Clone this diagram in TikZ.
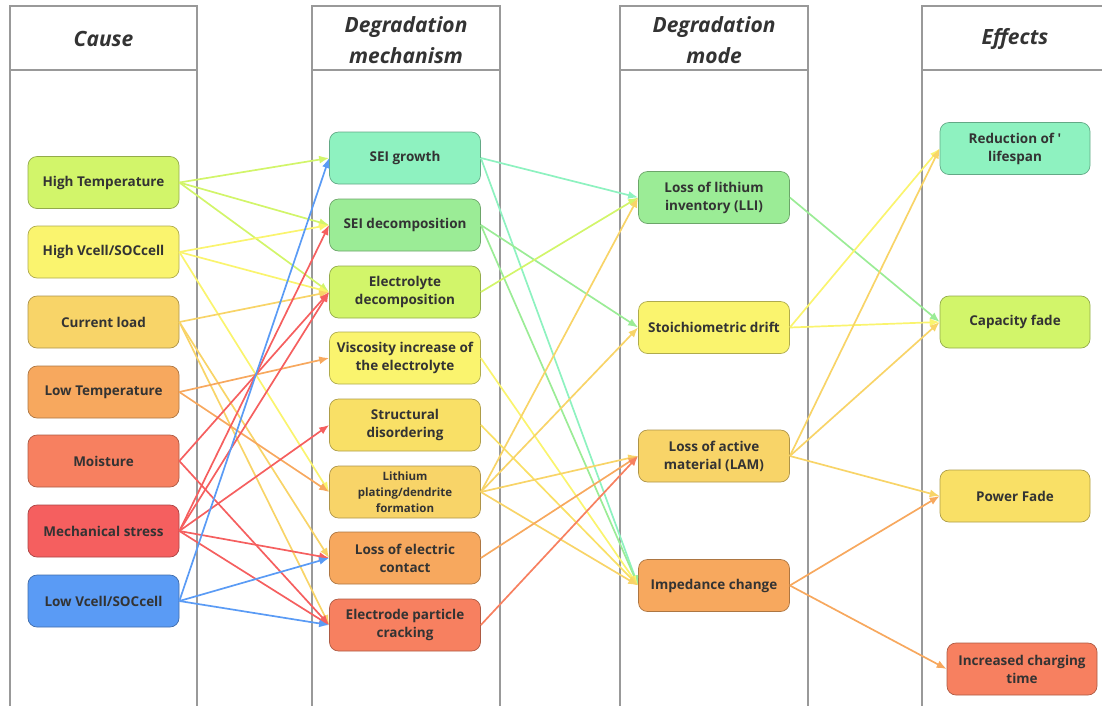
\documentclass[tikz,border=0pt]{standalone}
\usepackage{fontspec}
\setmainfont{Open Sans}
\usetikzlibrary{arrows.meta}
\definecolor{cLime}{RGB}{210,245,106}
\definecolor{cYellow}{RGB}{250,244,110}
\definecolor{cGold}{RGB}{248,212,104}
\definecolor{cSand}{RGB}{249,224,102}
\definecolor{cOrange}{RGB}{247,168,94}
\definecolor{cCoral}{RGB}{247,128,96}
\definecolor{cRed}{RGB}{245,95,95}
\definecolor{cBlue}{RGB}{90,155,245}
\definecolor{cMint}{RGB}{142,242,192}
\definecolor{cGreen}{RGB}{155,236,150}
\begin{document}
\begin{tikzpicture}[x=1pt,y=-1pt,
	lane/.style={draw=black!40,line width=1.3pt},
	head/.style={font=\fontsize{21}{31}\selectfont\bfseries\itshape,text=black!80,align=center},
	box/.style={rounded corners=9pt,fill=#1,draw=#1!70!black,line width=0.7pt,
		minimum width=151pt,minimum height=52pt,inner sep=2pt,align=center,
		font=\fontsize{13.5}{18}\selectfont\bfseries,text=black!80},
	link/.style={draw=#1,line width=1.7pt,-{Latex[length=10pt,width=8pt]}}]
		\useasboundingbox (0,0) rectangle (1102,705);
		\clip (0,0) rectangle (1102,705);
		% lanes
		\draw[lane] (10,6) rectangle (197,720);
		\draw[lane] (10,70) -- (197,70);
		\draw[lane] (312,6) rectangle (500,720);
		\draw[lane] (312,70) -- (500,70);
		\draw[lane] (620,6) rectangle (808,720);
		\draw[lane] (620,70) -- (808,70);
		\draw[lane] (922,6) rectangle (1110,720);
		\draw[lane] (922,70) -- (1110,70);
		\node[head] (hcause) at (103.5,39) {Cause};
		\node[head] (hmech) at (406,40) {Degradation\\mechanism};
		\node[head] (hmode) at (714,40) {Degradation\\mode};
		\node[head] (heff) at (1015,39) {Effects};
		
		% cause
		\node[box=cLime] (ht) at (103.5,182.5) {High Temperature};
		\node[box=cYellow] (hv) at (103.5,252) {High Vcell/SOCcell};
		\node[box=cGold] (cl) at (103.5,322) {Current load};
		\node[box=cOrange] (lt) at (103.5,392) {Low Temperature};
		\node[box=cCoral] (mo) at (103.5,461) {Moisture};
		\node[box=cRed] (ms) at (103.5,531) {Mechanical stress};
		\node[box=cBlue] (lv) at (103.5,601) {Low Vcell/SOCcell};
		
		% mechanism
		\node[box=cMint] (sg) at (405,158) {SEI growth};
		\node[box=cGreen] (sd) at (405,225) {SEI decomposition};
		\node[box=cLime] (ed) at (405,292) {Electrolyte\\decomposition};
		\node[box=cYellow] (vi) at (405,358) {Viscosity increase of\\the electrolyte};
		\node[box=cSand] (sdis) at (405,425) {Structural\\disordering};
		\node[box=cGold,font=\fontsize{11.5}{16}\selectfont\bfseries] (lp) at (405,492) {Lithium\\plating/dendrite\\formation};
		\node[box=cOrange] (lec) at (405,558) {Loss of electric\\contact};
		\node[box=cCoral] (epc) at (405,625) {Electrode particle\\cracking};
		
		% mode
		\node[box=cGreen] (lli) at (714,197.5) {Loss of lithium\\inventory (LLI)};
		\node[box=cYellow] (sdr) at (714,327.5) {Stoichiometric drift};
		\node[box=cGold] (lam) at (714,456) {Loss of active\\material (LAM)};
		\node[box=cOrange] (imp) at (714,585.5) {Impedance change};
		
		% effects
		\node[box=cMint,minimum width=150pt] (life) at (1015,148.5) {Reduction of \textquotesingle\\lifespan};
		\node[box=cLime,minimum width=150pt] (cap) at (1015,322) {Capacity fade};
		\node[box=cSand,minimum width=150pt] (pow) at (1015,496) {Power Fade};
		\node[box=cCoral,minimum width=150pt] (chg) at (1022,669) {Increased charging\\time};
		
		% links
		\foreach \a/\b/\c in {ht/sg/cLime,ht/sd/cLime,ht/ed/cLime,
			hv/sd/cYellow,hv/ed/cYellow,hv/lp/cYellow,
			cl/ed/cGold,cl/lec/cGold,cl/epc/cGold,
			lt/vi/cOrange,lt/lp/cOrange,
			mo/ed/cRed,mo/epc/cRed,
			ms/sd/cRed,ms/ed/cRed,ms/sdis/cRed,ms/lec/cRed,ms/epc/cRed,
			lv/sg/cBlue,lv/lec/cBlue,lv/epc/cBlue}
			\draw[link=\c] (\a.east) -- (\b.west);
		\foreach \a/\b/\c in {sg/lli/cMint,sg/imp/cMint,sd/sdr/cGreen,sd/imp/cGreen,
			ed/lli/cLime,vi/imp/cYellow,sdis/imp/cSand,
			lp/lli/cGold,lp/sdr/cGold,lp/lam/cGold,lp/imp/cGold,
			lec/lam/cOrange,epc/lam/cCoral}
			\draw[link=\c] (\a.east) -- (\b.west);
		\foreach \a/\b/\c in {lli/cap/cGreen,sdr/life/cYellow,sdr/cap/cYellow,
			lam/life/cGold,lam/cap/cGold,lam/pow/cGold,
			imp/pow/cOrange,imp/chg/cOrange}
			\draw[link=\c] (\a.east) -- (\b.west);
\end{tikzpicture}
\end{document}
